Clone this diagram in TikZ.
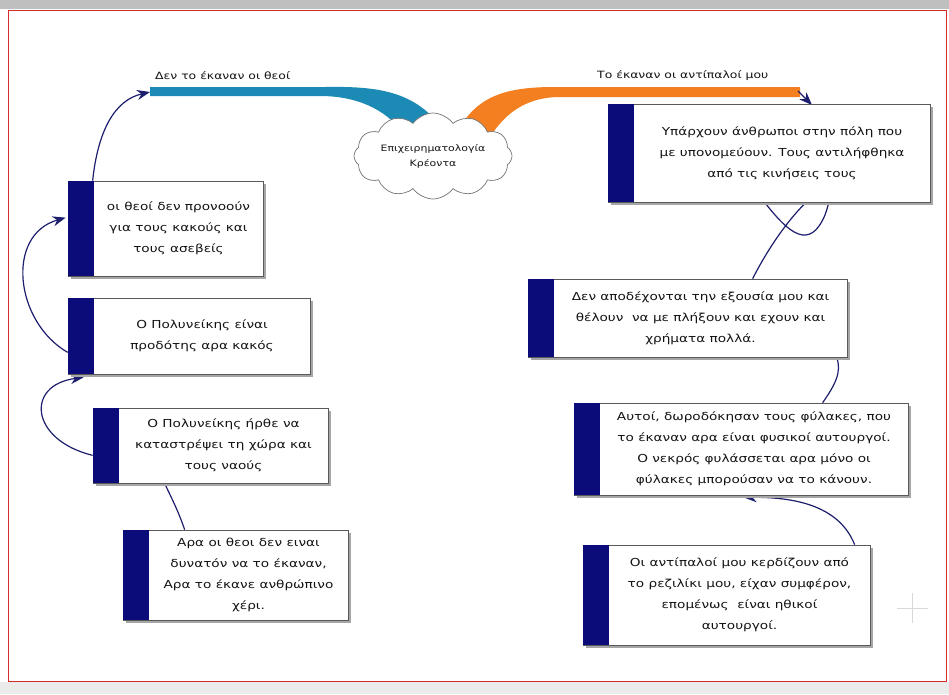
\documentclass[tikz,border=0pt]{standalone}
\usepackage{fontspec}
\setmainfont{DejaVu Sans}[FakeStretch=1.24]
\usetikzlibrary{shapes.symbols,arrows.meta,fit,calc}
\definecolor{navy}{HTML}{0B0B7A}
\definecolor{ribblue}{HTML}{1B8BB5}
\definecolor{ribor}{HTML}{F47F20}
\definecolor{connc}{HTML}{1E1E6E}
\definecolor{txt}{HTML}{141414}
\definecolor{frame}{HTML}{D42A2A}
\pgfdeclarelayer{back}\pgfdeclarelayer{bg}\pgfsetlayers{back,bg,main}
\tikzset{
  boxshape/.style={draw=black!65, line width=0.7pt, fill=white, inner sep=0pt},
  boxshadow/.style={fill=black!35},
  barfill/.style={fill=navy},
  boxtext/.style={font=\fontsize{11}{21}\selectfont, align=center, text=txt, inner sep=0pt},
  lbl/.style={font=\fontsize{10}{12}\selectfont, text=txt, inner sep=0pt},
  conn/.style={draw=connc, line width=1.2pt},
  arr/.style={conn, -{Stealth[length=13pt,width=10pt]}},
}
\newcommand\argbox[6]{%
  \fill[boxshadow] (#2+3,#3+3) rectangle (#4+3,#5+3);
  \node[boxshape, fit={(#2,#3) (#4,#5)}] (#1) {};
  \fill[barfill] (#1.north west) rectangle ([xshift=26pt]#1.south west);
  \node[boxtext] (#1t) at ($(#2+26,#3)!0.5!(#4,#5)$) {#6};
}
\begin{document}
\begin{tikzpicture}[x=1pt,y=-1pt]
\useasboundingbox (0,0) rectangle (949,694);
\begin{pgfonlayer}{back}
% page frame
\fill[white] (0,0) rectangle (949,694);
\fill[black!25] (0,0) rectangle (949,9);
\fill[black!8] (0,682) rectangle (949,694);
\draw[frame, line width=1pt] (8,10) rectangle (946,681);
% faint plus mark
\draw[black!15, line width=1pt] (897,608) -- (928,608) (912,593) -- (912,623);
\end{pgfonlayer}

% boxes
\argbox{b1}{68}{181}{263}{276}{οι θεοί δεν προνοούν\\για τους κακούς και\\τους ασεβείς}
\argbox{b2}{68}{298}{310}{374}{Ο Πολυνείκης είναι\\προδότης αρα κακός}
\argbox{b3}{93}{408}{328}{483}{Ο Πολυνείκης ήρθε να\\καταστρέψει τη χώρα και\\τους ναούς}
\argbox{b4}{123}{530}{348}{620}{Αρα οι θεοι δεν ειναι\\δυνατόν να το έκαναν,\\Αρα το έκανε ανθρώπινο\\χέρι.}
\argbox{b5}{608}{104}{930}{202}{Υπάρχουν άνθρωποι στην πόλη που\\με υπονομεύουν. Τους αντιλήφθηκα\\από τις κινήσεις τους}
\argbox{b6}{528}{279}{847}{357}{Δεν αποδέχονται την εξουσία μου και\\θέλουν \ να με πλήξουν και εχουν και\\χρήματα πολλά.}
\argbox{b7}{574}{403}{908}{495}{Αυτοί, δωροδόκησαν τους φύλακες, που\\το έκαναν αρα είναι φυσικοί αυτουργοί.\\Ο νεκρός φυλάσσεται αρα μόνο οι\\φύλακες μπορούσαν να το κάνουν.}
\argbox{b8}{583}{545}{870}{645}{Οι αντίπαλοί μου κερδίζουν από\\το ρεζιλίκι μου, είχαν συμφέρον,\\επομένως \ είναι ηθικοί\\αυτουργοί.}

% central cloud
\node[cloud, cloud puffs=12, cloud puff arc=110, aspect=1.9, draw=black!55, line width=0.7pt,
      fill=white, minimum width=158pt, minimum height=86pt, inner sep=0pt] (c) at (433,156) {};
\node[font=\fontsize{8.8}{15}\selectfont, align=center, text=txt, inner sep=0pt] (ct) at (c.center) {Επιχειρηματολογία\\Κρέοντα};

% branch labels
\node[lbl, anchor=west] (lb) at (155,76) {Δεν το έκαναν οι θεοί};
\node[lbl, anchor=west] (lo) at (597,76) {Το έκαναν οι αντίπαλοί μου};

\begin{pgfonlayer}{bg}
% ribbons
\coordinate (bl) at (150,87);
\coordinate (orr) at (800,87);
\fill[ribblue] (bl) -- (325,87) .. controls (380,86) and (415,92) .. (442,128)
   -- (404,134) .. controls (385,108) and (355,96) .. (320,96) -- (150,96) -- cycle;
\fill[ribor] (458,130) .. controls (478,96) and (505,87) .. (555,87) -- (orr)
   -- (800,97) -- (560,97) .. controls (530,97) and (508,110) .. (492,134) -- cycle;
% connectors
\draw[arr] ([xshift=25pt]b1.north west) .. controls (98,130) and (115,100) .. (150,92);
\draw[arr] (798,91) -- (812,105);
\draw[arr] ([yshift=22pt]b2.south west) .. controls (15,322) and (5,235) .. ([xshift=-2pt,yshift=-37pt]b1.north west);
\draw[arr] ([yshift=28pt]b3.south west) .. controls (30,440) and (25,385) .. ([xshift=16pt,yshift=-3pt]b2.south west);
\draw[conn] ([xshift=62pt]b4.north west) .. controls (178,510) and (170,495) .. ([xshift=72pt]b3.south west);
\draw[conn] ([xshift=225pt]b6.north west) .. controls (790,205) and (845,160) .. (825,215)
   .. controls (810,250) and (790,235) .. ([xshift=157pt]b5.south west);
\draw[conn] ([xshift=249pt]b7.north west) .. controls (835,385) and (842,372) .. ([xshift=309pt]b6.south west);
\draw[arr] ([xshift=272pt]b8.north west) .. controls (840,508) and (800,497) .. ([xshift=170pt,yshift=-2pt]b7.south west);
\end{pgfonlayer}
\end{tikzpicture}
\end{document}
